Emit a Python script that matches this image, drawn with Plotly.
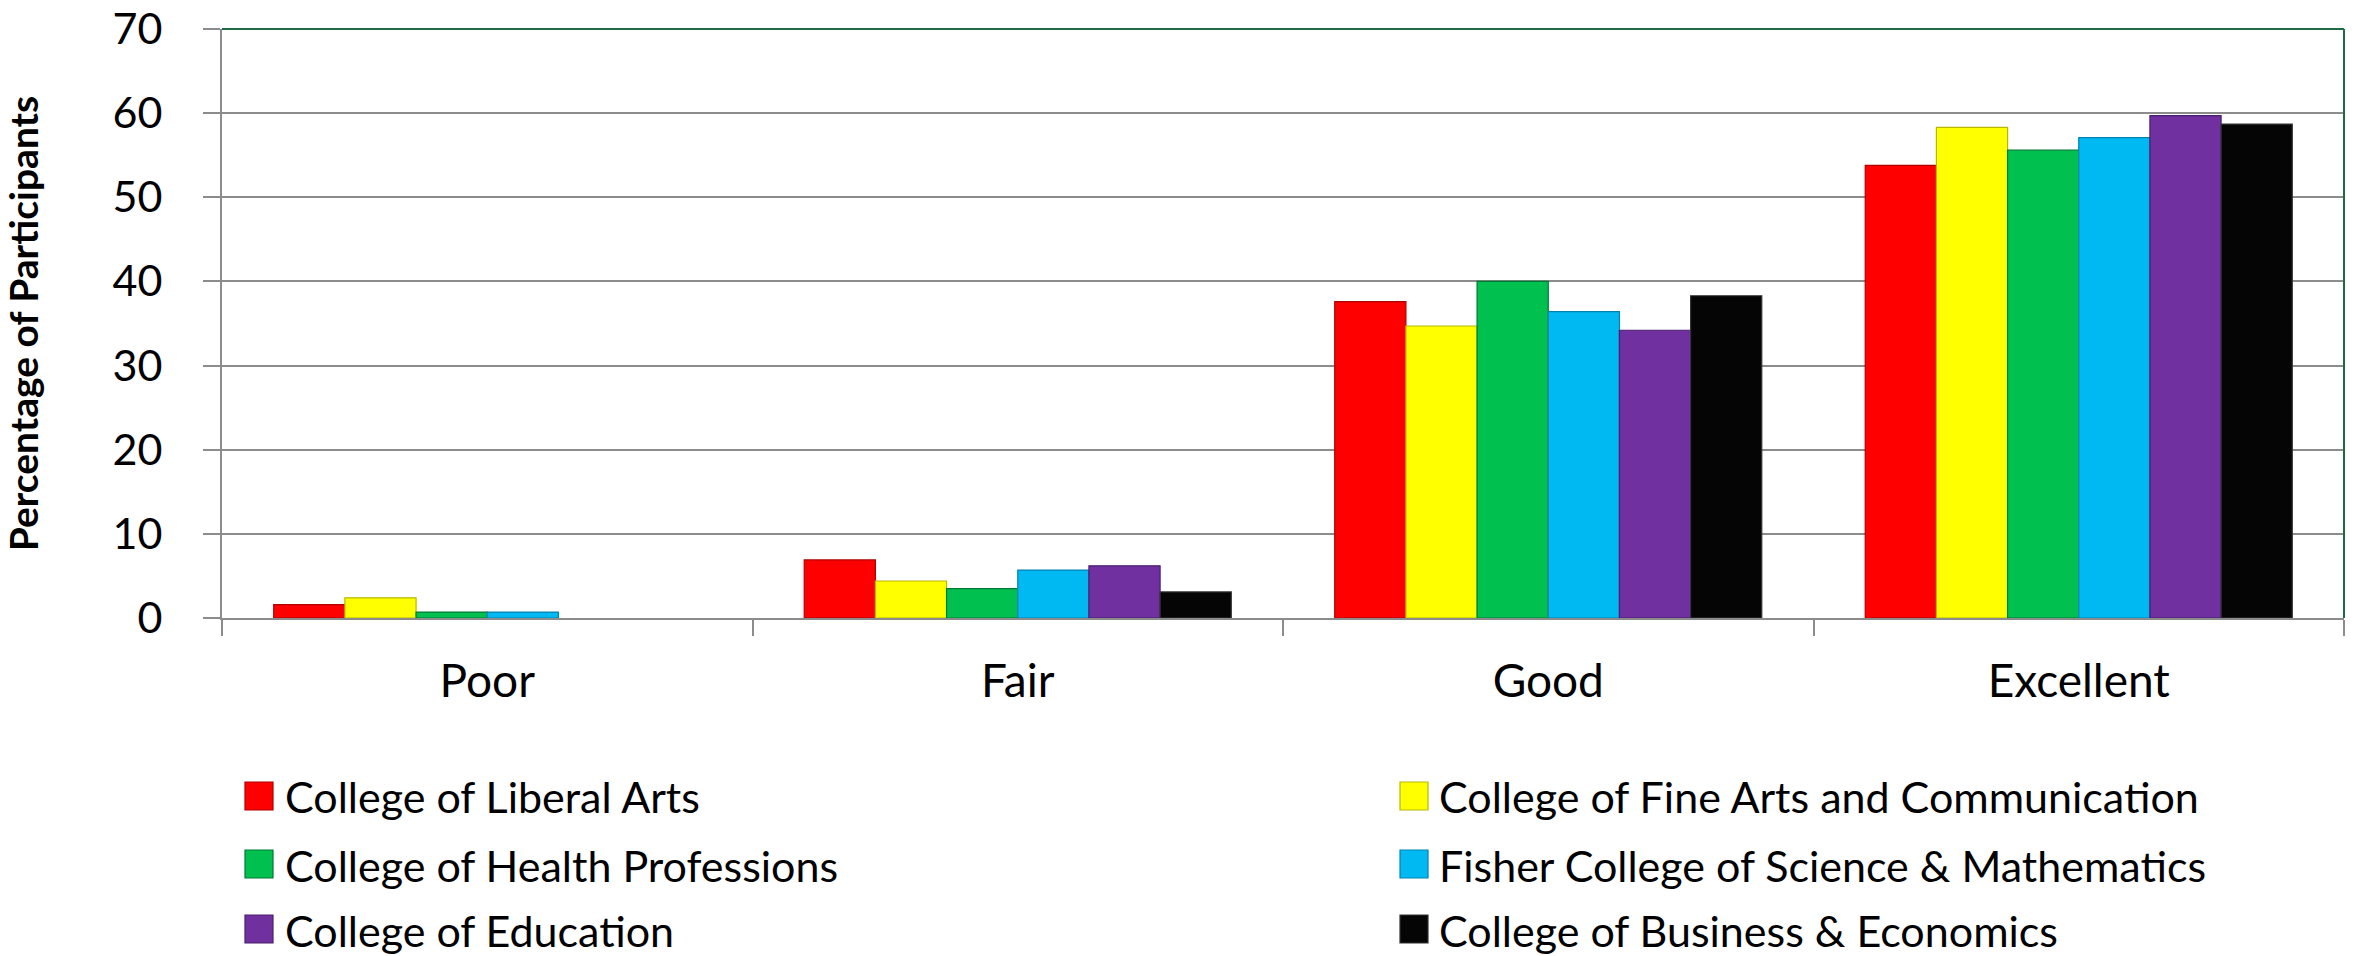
import plotly.graph_objects as go

categories = ["Poor", "Fair", "Good", "Excellent"]

series_names = [
    "College of Liberal Arts",
    "College of Fine Arts and Communication",
    "College of Health Professions",
    "Fisher College of Science & Mathematics",
    "College of Education",
    "College of Business & Economics",
]

liberal_arts = [1.6, 6.9, 37.6, 53.8]
fine_arts = [2.4, 4.4, 34.7, 58.3]
health = [0.7, 3.5, 40.0, 55.6]
fisher = [0.7, 5.7, 36.4, 57.1]
education = [0.0, 6.2, 34.2, 59.7]
business = [0.0, 3.1, 38.3, 58.7]

series_values = [liberal_arts, fine_arts, health, fisher, education, business]

colors = ["#FF0000", "#FFFF00", "#00C050", "#00B9F2", "#7030A0", "#050505"]
outline = ["#B00000", "#B8B800", "#007A33", "#0083B0", "#4A1E6E", "#333333"]

y_ticks = [0, 10, 20, 30, 40, 50, 60, 70]

W, H = 2357, 956
L, R, T, B = 222, 2344, 29, 618

fig = go.Figure()
for name, vals, c, oc in zip(series_names, series_values, colors, outline):
    fig.add_trace(go.Bar(
        x=categories, y=vals, name=name,
        marker=dict(color=c, line=dict(color=oc, width=[0 if v == 0 else 1.2 for v in vals])),
        showlegend=False,
    ))

FONT = "Lato"
grid = "#8C8C8C"

fig.update_layout(
    width=W, height=H,
    margin=dict(l=L, r=W - R, t=T, b=H - B, autoexpand=False),
    paper_bgcolor="white", plot_bgcolor="white",
    barmode="group", bargap=0.195, bargroupgap=0.0,
    font=dict(family=FONT, color="black"),
)

fig.update_xaxes(
    type="category",
    showline=True, linecolor=grid, linewidth=2,
    ticks="outside", tickson="boundaries", ticklen=16, tickwidth=2, tickcolor=grid,
    tickfont=dict(size=46, family=FONT, color="black"),
    ticklabelstandoff=22,
    showgrid=False,
)
fig.update_yaxes(
    range=[0, 70], tickvals=y_ticks,
    showline=True, linecolor=grid, linewidth=2,
    ticks="outside", ticklen=17, tickwidth=2, tickcolor=grid,
    tickfont=dict(size=43, family=FONT, color="black"),
    ticklabelstandoff=32,
    showgrid=True, gridcolor=grid, gridwidth=2,
    zeroline=False,
    title=dict(text="<b>Percentage of Participants</b>",
               font=dict(size=39, family=FONT, color="black"), standoff=68),
)

# plot border (top & right)
border = "#1F6B45"
fig.add_shape(type="line", xref="paper", yref="paper", x0=0, x1=1, y0=1, y1=1,
              line=dict(color=border, width=2))
fig.add_shape(type="line", xref="paper", yref="paper", x0=1, x1=1, y0=0, y1=1,
              line=dict(color=border, width=2))

# custom legend
pw, ph = R - L, B - T
def px_x(p):
    return (p - L) / pw
def px_y(p):
    return (B - p) / ph

col_marker_x = [245, 1400]
col_text_x = [284, 1438]
row_y = [796, 864, 929]
msize = 28
for i, (name, c, oc) in enumerate(zip(series_names, colors, outline)):
    row, col = divmod(i, 2)
    cy = row_y[row]
    mx = col_marker_x[col]
    fig.add_shape(type="rect", xref="paper", yref="paper",
                  x0=px_x(mx), x1=px_x(mx + msize),
                  y0=px_y(cy + msize / 2), y1=px_y(cy - msize / 2),
                  fillcolor=c, line=dict(color=oc, width=1.2))
    fig.add_annotation(xref="paper", yref="paper", x=px_x(col_text_x[col]), y=px_y(cy + 1),
                       text=name, showarrow=False, xanchor="left", yanchor="middle",
                       borderpad=0,
                       font=dict(size=43, family=FONT, color="black"))

fig.write_html("out.html",
               config={"displayModeBar": False},
               post_script="document.body.style.margin='0';document.body.style.overflow='hidden';")
